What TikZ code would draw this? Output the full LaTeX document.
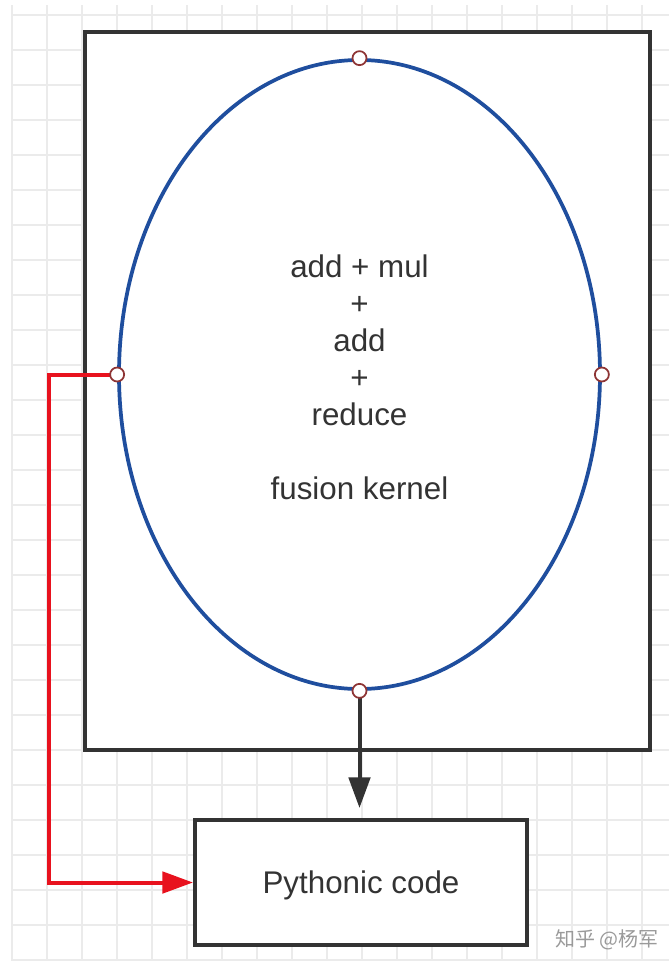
\documentclass[tikz,border=0pt]{standalone}
\usepackage{fontspec}
\setmainfont{Liberation Sans}
\newfontfamily\cjk{Noto Sans CJK SC}
\usetikzlibrary{shapes.geometric,arrows.meta}
\definecolor{gridc}{HTML}{EBEBEB}
\definecolor{boxc}{HTML}{333333}
\definecolor{ellc}{HTML}{1F4E9E}
\definecolor{redc}{HTML}{E8121E}
\definecolor{dotc}{HTML}{8E3434}
\definecolor{wmc}{HTML}{9A9A9A}
\tikzset{
  boxstyle/.style={draw=boxc, line width=3pt, fill=white, rectangle, inner sep=0pt},
  ellstyle/.style={draw=ellc, line width=2.8pt, ellipse, inner sep=0pt},
  dotstyle/.style={circle, draw=dotc, fill=white, line width=1.3pt, minimum size=10.5pt, inner sep=0pt},
  blackarrow/.style={draw=boxc, line width=3pt, -{Triangle[length=23pt, width=16pt]}},
  redarrow/.style={draw=redc, line width=3pt, -{Triangle[length=23pt, width=16pt]}},
  labelstyle/.style={font=\fontsize{23.5}{27.75}\selectfont, text=boxc, align=center},
}
\begin{document}
\begin{tikzpicture}[x=0.75pt, y=-0.75pt]
\useasboundingbox (0,0) rectangle (669,961);
% grid
\foreach \gx in {12,47,...,669} \draw[gridc, line width=1.2pt] (\gx,5) -- (\gx,961);
\foreach \gy in {15,50,...,961} \draw[gridc, line width=1.2pt] (12,\gy) -- (669,\gy);
% outer box
\node[boxstyle, minimum width=423.75pt, minimum height=538.5pt] (outer) at (367.5,391) {};
% ellipse
\node[ellstyle, minimum width=360.75pt, minimum height=471.75pt] (ell) at (359.5,374.5) {};
% label
\node[labelstyle] (lbl) at (359.5,377) {add + mul\\+\\add\\+\\reduce\\[27.75pt]fusion kernel};
% bottom box
\node[boxstyle, minimum width=249pt, minimum height=93.75pt] (pbox) at (361,882.5) {};
\node[font=\fontsize{23.5}{27.75}\selectfont, text=boxc] (ptext) at (361,885) {Pythonic code};
% arrows
\coordinate (btip) at (359.5,808);
\draw[blackarrow] (ell.south) -- (btip);
\draw[redarrow] (ell.west) -- (49,374.5) |- (pbox.west);
% dots
\node[dotstyle] (dn) at (ell.north) {};
\node[dotstyle] (ds) at (ell.south) {};
\node[dotstyle] (dw) at (ell.west) {};
\node[dotstyle] (de) at (ell.east) {};
% watermark
\node[font=\cjk\fontsize{15}{18}\selectfont, text=wmc] (wm) at (607,940) {知乎 @杨军};
\end{tikzpicture}
\end{document}
